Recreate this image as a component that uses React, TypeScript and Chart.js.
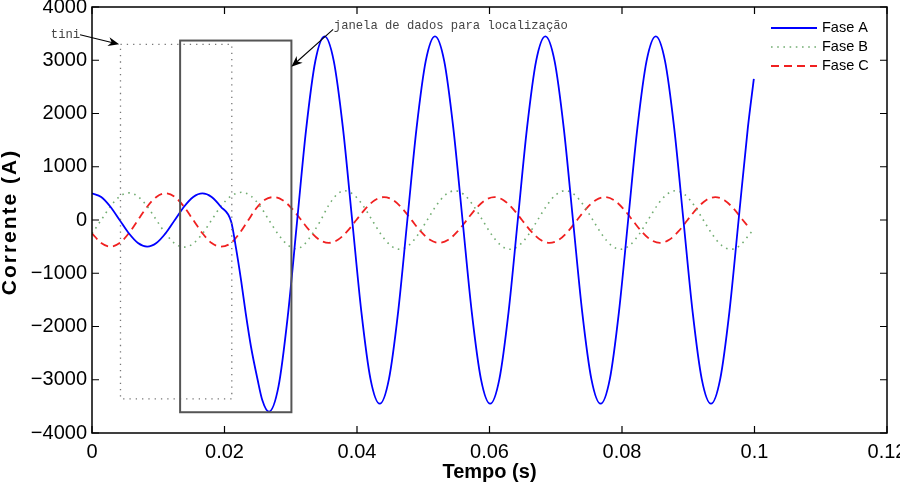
import React, { useEffect, useRef } from 'react';
import { Chart, registerables } from 'chart.js';

Chart.register(...registerables);

// ---------- data (time in s, current in A) ----------
const timeA = [
  0, 0.00139, 0.00278, 0.00417, 0.00556, 0.00694, 0.00833, 0.00972, 0.01111, 0.0125, 0.01389, 0.01528, 0.01667, 0.01806, 0.01944, 0.021,
  0.0217, 0.0225, 0.0232, 0.024, 0.025, 0.0257, 0.0267,
  0.02816, 0.02954, 0.03093, 0.03232, 0.03371, 0.0351,
  0.03649, 0.03788, 0.03927, 0.04066, 0.04204, 0.04343, 0.04482, 0.04621, 0.0476, 0.04899, 0.05038, 0.05177,
  0.05316, 0.05454, 0.05593, 0.05732, 0.05871, 0.0601, 0.06149, 0.06288, 0.06427, 0.06566, 0.06704, 0.06843,
  0.06982, 0.07121, 0.0726, 0.07399, 0.07538, 0.07677, 0.07816, 0.07954, 0.08093, 0.08232, 0.08371, 0.0851,
  0.08649, 0.08788, 0.08927, 0.09066, 0.09204, 0.09343, 0.09482, 0.09621, 0.0976, 0.09899, 0.0999,
];
const currentA = [
  500, 433, 250, 0, -250, -433, -500, -433, -250, 0, 250, 433, 500, 433, 250, -30,
  -500, -1130, -1750, -2380, -3000, -3380, -3600,
  -3120, -1820, -60, 1700, 2985, 3450,
  2988, 1725, 0, -1725, -2988, -3450, -2988, -1725, 0, 1725, 2988, 3450,
  2988, 1725, 0, -1725, -2988, -3450, -2988, -1725, 0, 1725, 2988, 3450,
  2988, 1725, 0, -1725, -2988, -3450, -2988, -1725, 0, 1725, 2988, 3450,
  2988, 1725, 0, -1725, -2988, -3450, -2988, -1725, 0, 1725, 2650,
];

const timeB = [
  0, 0.00139, 0.00278, 0.00417, 0.00556, 0.00694, 0.00833, 0.00972, 0.01111, 0.0125, 0.01389, 0.01528, 0.01667, 0.01806, 0.01944, 0.021,
  0.0226, 0.024, 0.0254, 0.0267, 0.0281, 0.0295, 0.0308, 0.032, 0.0332, 0.0345, 0.0357, 0.0369,
  0.0381, 0.03949, 0.04088, 0.04227, 0.04366, 0.04504, 0.04643, 0.04782, 0.04921, 0.0506, 0.05199, 0.05338, 0.05477,
  0.05616, 0.05754, 0.05893, 0.06032, 0.06171, 0.0631, 0.06449, 0.06588, 0.06727, 0.06866, 0.07004, 0.07143,
  0.07282, 0.07421, 0.0756, 0.07699, 0.07838, 0.07977, 0.08116, 0.08254, 0.08393, 0.08532, 0.08671, 0.0881,
  0.08949, 0.09088, 0.09227, 0.09366, 0.09504, 0.09643, 0.09782, 0.09921, 0.0999,
];
const currentB = [
  -255, 0, 255, 442, 510, 442, 255, 0, -255, -442, -510, -442, -255, 0, 255, 450,
  520, 450, 255, 0, -265, -465, -540, -465, -270, -10, 270, 470,
  550, 476, 275, 0, -275, -476, -550, -476, -275, 0, 275, 476, 550,
  476, 275, 0, -275, -476, -550, -476, -275, 0, 275, 476, 550,
  476, 275, 0, -275, -476, -550, -476, -275, 0, 275, 476, 550,
  476, 275, 0, -275, -476, -550, -476, -275, -170,
];

const timeC = [
  0, 0.00139, 0.00278, 0.00417, 0.00556, 0.00694, 0.00833, 0.00972, 0.01111, 0.0125, 0.01389, 0.01528, 0.01667, 0.01806, 0.01944,
  0.0209, 0.0222, 0.0235, 0.0248, 0.0261,
  0.0274, 0.02879, 0.03018, 0.03157, 0.03296, 0.03434, 0.03573, 0.03712, 0.03851, 0.0399, 0.04129, 0.04268, 0.04407,
  0.04546, 0.04684, 0.04823, 0.04962, 0.05101, 0.0524, 0.05379, 0.05518, 0.05657, 0.05796, 0.05934, 0.06073,
  0.06212, 0.06351, 0.0649, 0.06629, 0.06768, 0.06907, 0.07046, 0.07184, 0.07323, 0.07462, 0.07601, 0.0774,
  0.07879, 0.08018, 0.08157, 0.08296, 0.08434, 0.08573, 0.08712, 0.08851, 0.0899, 0.09129, 0.09268, 0.09407,
  0.09546, 0.09684, 0.09823, 0.099,
];
const currentC = [
  -250, -433, -500, -433, -250, 0, 250, 433, 500, 433, 250, 0, -250, -433, -500,
  -440, -260, -20, 220, 380,
  430, 372, 215, 0, -215, -372, -430, -372, -215, 0, 215, 372, 430,
  372, 215, 0, -215, -372, -430, -372, -215, 0, 215, 372, 430,
  372, 215, 0, -215, -372, -430, -372, -215, 0, 215, 372, 430,
  372, 215, 0, -215, -372, -430, -372, -215, 0, 215, 372, 430,
  372, 215, 0, -118,
];

const seriesNames = ['Fase A', 'Fase B', 'Fase C'];
const xTickLabels = ['0', '0.02', '0.04', '0.06', '0.08', '0.1', '0.12'];
const yTickLabels = ['\u22124000', '\u22123000', '\u22122000', '\u22121000', '0', '1000', '2000', '3000', '4000'];
const xAxisTitle = 'Tempo (s)';
const yAxisTitle = 'Corrente (A)';

// annotation geometry in data units [time, current]
const dottedWindowX = [0.0043, 0.0211];
const dottedWindowY = [-3360, 3300];
const solidWindowX = [0.0133, 0.0301];
const solidWindowY = [-3610, 3370];
const tiniText = 'tini';
const tiniTextAt = [-0.0018, 3475];
const tiniArrowFrom = [-0.0018, 3480];
const tiniArrowTo = [0.0041, 3300];
const janelaText = 'janela de dados para localiza\u00e7\u00e3o';
const janelaTextAt = [0.0365, 3640];
const janelaArrowFrom = [0.0364, 3580];
const janelaArrowTo = [0.0301, 2880];

const SANS = '"Liberation Sans", Arial, Helvetica, sans-serif';
const MONO = '"Liberation Mono", "Courier New", monospace';

function toPts(t: number[], v: number[]) {
  return t.map((x, i) => ({ x, y: v[i] }));
}

function drawArrow(ctx: any, x1: number, y1: number, x2: number, y2: number) {
  const ang = Math.atan2(y2 - y1, x2 - x1);
  const len = 11;
  const hw = 4.5;
  ctx.save();
  ctx.strokeStyle = '#000';
  ctx.fillStyle = '#000';
  ctx.lineWidth = 1.1;
  ctx.setLineDash([]);
  ctx.beginPath();
  ctx.moveTo(x1, y1);
  ctx.lineTo(x2 - Math.cos(ang) * len * 0.6, y2 - Math.sin(ang) * len * 0.6);
  ctx.stroke();
  ctx.beginPath();
  ctx.moveTo(x2, y2);
  ctx.lineTo(x2 - Math.cos(ang) * len - Math.sin(ang) * hw, y2 - Math.sin(ang) * len + Math.cos(ang) * hw);
  ctx.lineTo(x2 - Math.cos(ang) * len * 0.7, y2 - Math.sin(ang) * len * 0.7);
  ctx.lineTo(x2 - Math.cos(ang) * len + Math.sin(ang) * hw, y2 - Math.sin(ang) * len - Math.cos(ang) * hw);
  ctx.closePath();
  ctx.fill();
  ctx.restore();
}

const decorPlugin = {
  id: 'matlabDecor',
  afterDatasetsDraw(chart: any) {
    const { ctx, scales } = chart;
    const xs = scales.x;
    const ys = scales.y;
    ctx.save();
    // dotted window (tini)
    ctx.strokeStyle = '#777';
    ctx.lineWidth = 1.3;
    ctx.setLineDash([1.3, 5]);
    const dx1 = xs.getPixelForValue(dottedWindowX[0]);
    const dx2 = xs.getPixelForValue(dottedWindowX[1]);
    const dy1 = ys.getPixelForValue(dottedWindowY[1]);
    const dy2 = ys.getPixelForValue(dottedWindowY[0]);
    ctx.strokeRect(dx1, dy1, dx2 - dx1, dy2 - dy1);
    // solid window
    ctx.setLineDash([]);
    ctx.strokeStyle = '#555';
    ctx.lineWidth = 2;
    const sx1 = xs.getPixelForValue(solidWindowX[0]);
    const sx2 = xs.getPixelForValue(solidWindowX[1]);
    const sy1 = ys.getPixelForValue(solidWindowY[1]);
    const sy2 = ys.getPixelForValue(solidWindowY[0]);
    ctx.strokeRect(sx1, sy1, sx2 - sx1, sy2 - sy1);
    ctx.restore();
  },
  afterDraw(chart: any) {
    const { ctx, chartArea, scales } = chart;
    const xs = scales.x;
    const ys = scales.y;
    const { left, right, top, bottom } = chartArea;
    ctx.save();
    // frame
    ctx.strokeStyle = '#000';
    ctx.lineWidth = 1.5;
    ctx.setLineDash([]);
    ctx.strokeRect(left, top, right - left, bottom - top);
    // inward ticks on all four sides
    const tl = 7;
    ctx.lineWidth = 1.2;
    ctx.beginPath();
    xs.ticks.forEach((t: any) => {
      const p = xs.getPixelForValue(t.value);
      ctx.moveTo(p, bottom);
      ctx.lineTo(p, bottom - tl);
      ctx.moveTo(p, top);
      ctx.lineTo(p, top + tl);
    });
    ys.ticks.forEach((t: any) => {
      const p = ys.getPixelForValue(t.value);
      ctx.moveTo(left, p);
      ctx.lineTo(left + tl, p);
      ctx.moveTo(right, p);
      ctx.lineTo(right - tl, p);
    });
    ctx.stroke();

    // y axis title (rotated, slightly spaced like the original)
    ctx.save();
    ctx.translate(ys.left + 10, (top + bottom) / 2 + 2);
    ctx.rotate(-Math.PI / 2);
    ctx.fillStyle = '#000';
    ctx.font = 'bold 21px ' + SANS;
    try { (ctx as any).letterSpacing = '2px'; } catch (e) { /* ignore */ }
    ctx.textAlign = 'center';
    ctx.textBaseline = 'middle';
    ctx.fillText(yAxisTitle, 0, 0);
    try { (ctx as any).letterSpacing = '0px'; } catch (e) { /* ignore */ }
    ctx.restore();

    // annotations text + arrows
    ctx.fillStyle = '#444';
    ctx.font = '12.2px ' + MONO;
    ctx.textBaseline = 'middle';
    ctx.textAlign = 'right';
    ctx.fillText(tiniText, xs.getPixelForValue(tiniTextAt[0]), ys.getPixelForValue(tiniTextAt[1]));
    ctx.textAlign = 'left';
    ctx.fillText(janelaText, xs.getPixelForValue(janelaTextAt[0]), ys.getPixelForValue(janelaTextAt[1]));
    drawArrow(ctx,
      xs.getPixelForValue(tiniArrowFrom[0]), ys.getPixelForValue(tiniArrowFrom[1]),
      xs.getPixelForValue(tiniArrowTo[0]), ys.getPixelForValue(tiniArrowTo[1]));
    drawArrow(ctx,
      xs.getPixelForValue(janelaArrowFrom[0]), ys.getPixelForValue(janelaArrowFrom[1]),
      xs.getPixelForValue(janelaArrowTo[0]), ys.getPixelForValue(janelaArrowTo[1]));

    // legend
    chart.data.datasets.forEach((ds: any, i: number) => {
      const y = top + 21 + i * 19;
      ctx.strokeStyle = ds.borderColor;
      ctx.lineWidth = ds.borderWidth;
      ctx.setLineDash(ds.borderDash || []);
      ctx.beginPath();
      ctx.moveTo(right - 116, y);
      ctx.lineTo(right - 70, y);
      ctx.stroke();
      ctx.setLineDash([]);
      ctx.fillStyle = '#000';
      ctx.font = '14.5px ' + SANS;
      ctx.textAlign = 'left';
      ctx.textBaseline = 'middle';
      ctx.fillText(seriesNames[i], right - 65, y);
    });
    ctx.restore();
  },
};

export default function App() {
  const ref = useRef<HTMLCanvasElement>(null);
  useEffect(() => {
    const canvas = ref.current;
    if (!canvas) return;
    const chart = new Chart(canvas, {
      type: 'line',
      data: {
        datasets: [
          {
            label: seriesNames[0],
            data: toPts(timeA, currentA),
            borderColor: '#0000ff',
            borderWidth: 1.8,
            pointRadius: 0,
            cubicInterpolationMode: 'monotone',
          },
          {
            label: seriesNames[1],
            data: toPts(timeB, currentB),
            borderColor: '#72ad72',
            borderWidth: 1.6,
            borderDash: [1.6, 4.6],
            pointRadius: 0,
            cubicInterpolationMode: 'monotone',
          },
          {
            label: seriesNames[2],
            data: toPts(timeC, currentC),
            borderColor: '#f02020',
            borderWidth: 1.8,
            borderDash: [8, 5],
            pointRadius: 0,
            cubicInterpolationMode: 'monotone',
          },
        ],
      } as any,
      options: {
        responsive: false,
        animation: false,
        devicePixelRatio: 1,
        layout: { padding: { top: 7, right: 13, left: 0, bottom: 0 } },
        plugins: {
          legend: { display: false },
          tooltip: { enabled: false },
        },
        scales: {
          x: {
            type: 'linear',
            position: 'bottom',
            min: 0,
            max: 0.12,
            grid: { display: false, drawTicks: false },
            border: { display: false },
            ticks: {
              stepSize: 0.02,
              autoSkip: false,
              maxRotation: 0,
              padding: 7,
              color: '#000',
              font: { family: SANS, size: 20 },
              callback: (_v: any, i: number) => xTickLabels[i],
            },
            title: {
              display: true,
              text: xAxisTitle,
              color: '#000',
              font: { family: SANS, size: 20, weight: 'bold' },
              padding: { top: 0, bottom: 2 },
            },
            afterFit: (s: any) => {
              s.height = 53;
              s.paddingLeft = 0;
              s.paddingRight = 0;
            },
          },
          y: {
            type: 'linear',
            min: -4000,
            max: 4000,
            grid: { display: false, drawTicks: false },
            border: { display: false },
            ticks: {
              stepSize: 1000,
              autoSkip: false,
              padding: 5,
              color: '#000',
              font: { family: SANS, size: 20 },
              callback: (_v: any, i: number) => yTickLabels[i],
            },
            title: { display: false, text: yAxisTitle },
            afterFit: (s: any) => {
              s.width = 92;
              s.paddingTop = 0;
              s.paddingBottom = 0;
            },
          },
        },
      } as any,
      plugins: [decorPlugin],
    });
    return () => chart.destroy();
  }, []);
  return (
    <div style={{ position: 'fixed', left: 0, top: 0, width: 900, height: 486, background: '#fff' }}>
      <canvas ref={ref} width={900} height={486} style={{ display: 'block', width: 900, height: 486 }} />
    </div>
  );
}
